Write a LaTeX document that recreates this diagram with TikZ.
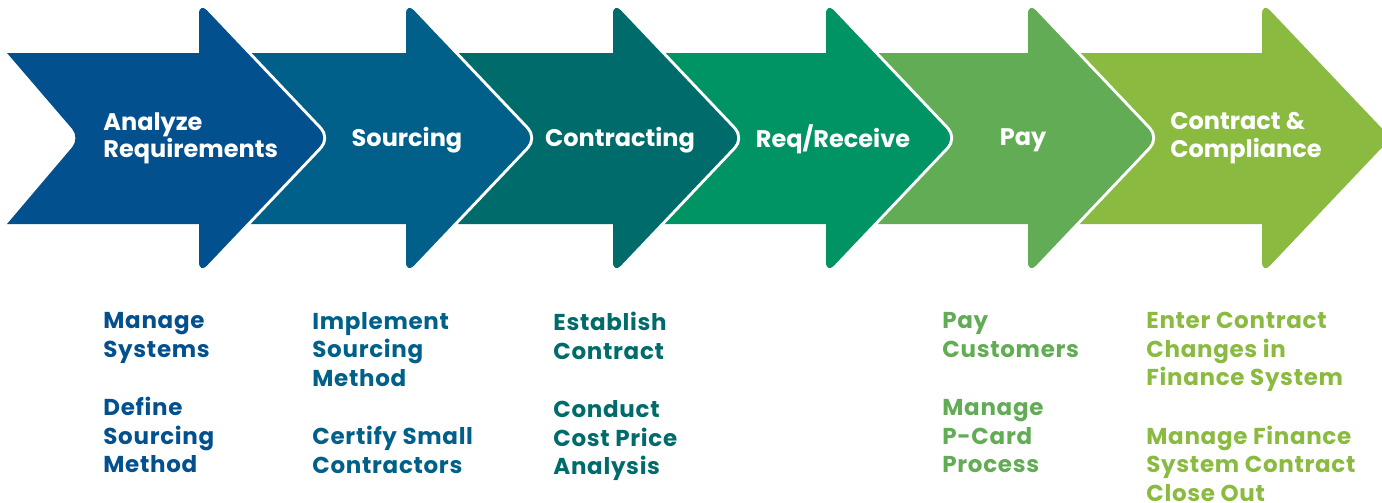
\documentclass[tikz,border=0pt]{standalone}
\usepackage{fontspec}
\setmainfont{Poppins}

\definecolor{stepone}{HTML}{03508F}
\definecolor{steptwo}{HTML}{00608A}
\definecolor{stepthree}{HTML}{006B6B}
\definecolor{stepfour}{HTML}{009465}
\definecolor{stepfive}{HTML}{62AC55}
\definecolor{stepsix}{HTML}{8ABB40}

\begin{document}
\begin{tikzpicture}[x=0.5pt, y=-0.5pt,
    chevron/.style={fill=#1, preaction={draw=white, line width=3pt}},
    phase/.style={text=white, font=\bfseries\fontsize{12}{13.6}\selectfont, inner sep=0pt, align=left},
    task/.style={text=#1, font=\bfseries\fontsize{11.5}{14.25}\selectfont\addfontfeatures{LetterSpace=3}, inner sep=0pt, align=left, anchor=north west}]

    \useasboundingbox (0,0) rectangle (1382,503);

    % arrows, last one first so that each head lies over the next body
    \fill[chevron=stepsix] (1038,53) -- (1262,53) [rounded corners=6pt] -- (1262,2) -- (1391,138) -- (1262,274) [sharp corners] -- (1262,224) -- (1038,224) -- cycle;
    \fill[chevron=stepfive] (836,53) -- (1028,53) [rounded corners=6pt] -- (1028,2) -- (1157,138) -- (1028,274) [sharp corners] -- (1028,224) -- (836,224) -- cycle;
    \fill[chevron=stepfour] (623,53) -- (826,53) [rounded corners=6pt] -- (826,2) -- (955,138) -- (826,274) [sharp corners] -- (826,224) -- (623,224) -- cycle;
    \fill[chevron=stepthree] (416,53) -- (613,53) [rounded corners=6pt] -- (613,2) -- (742,138) -- (613,274) [sharp corners] -- (613,224) -- (416,224) -- cycle;
    \fill[chevron=steptwo] (209,53) -- (406,53) [rounded corners=6pt] -- (406,2) -- (535,138) -- (406,274) [sharp corners] -- (406,224) -- (209,224) -- cycle;
    \fill[chevron=stepone] (100,53) -- (199,53) [rounded corners=6pt] -- (199,2) -- (328,138) -- (199,274) [sharp corners] -- (199,224) -- (7,224) [rounded corners=6pt] -- (80,138) [sharp corners] -- (7,53) -- cycle;

    \node[phase, anchor=west] (analyze) at (103,138) {Analyze\\Requirements};
    \node[phase] (sourcing) at (407,140) {Sourcing};
    \node[phase] (contracting) at (620,140) {Contracting};
    \node[phase] (receive) at (833,139) {Req/Receive};
    \node[phase] (pay) at (1023,140) {Pay};
    \node[phase, anchor=west] (compliance) at (1170,138) {Contract \&\\Compliance};

    \node[task=stepone] (analyzetasks) at (103,312) {Manage\\Systems\\[15pt]Define\\Sourcing\\Method};
    \node[task=steptwo] (sourcingtasks) at (312,312) {Implement\\Sourcing\\Method\\[15pt]Certify Small\\Contractors};
    \node[task=stepthree] (contractingtasks) at (553,312) {Establish\\Contract\\[15pt]Conduct\\Cost Price\\Analysis};
    \node[task=stepfive] (paytasks) at (942,312) {Pay\\Customers\\[15pt]Manage\\P-Card\\Process};
    \node[task=stepsix] (compliancetasks) at (1146,312) {Enter Contract\\Changes in\\Finance System\\[15pt]Manage Finance\\System Contract\\Close Out};

\end{tikzpicture}
\end{document}
